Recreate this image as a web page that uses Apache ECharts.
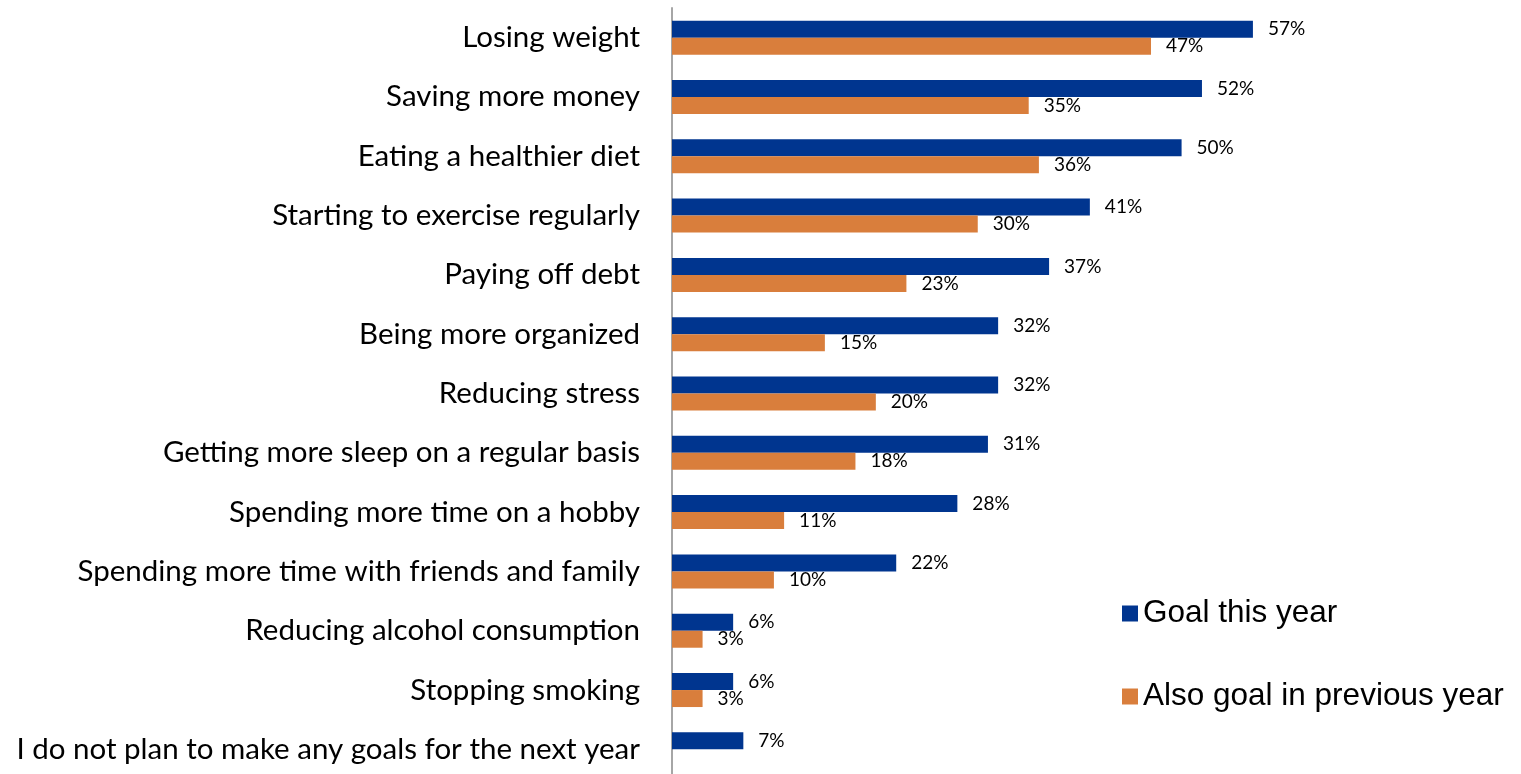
<!DOCTYPE html>
<html>
<head>
<meta charset="utf-8">
<script src="https://cdn.jsdelivr.net/npm/echarts@6/dist/echarts.min.js"></script>
<style>
  html, body { margin: 0; padding: 0; background: #ffffff; }
  #chart { width: 1521px; height: 774px; }
</style>
</head>
<body>
<div id="chart"></div>
<script>
// Goals, listed top to bottom
const categories = [
  'Losing weight',
  'Saving more money',
  'Eating a healthier diet',
  'Starting to exercise regularly',
  'Paying off debt',
  'Being more organized',
  'Reducing stress',
  'Getting more sleep on a regular basis',
  'Spending more time on a hobby',
  'Spending more time with friends and family',
  'Reducing alcohol consumption',
  'Stopping smoking',
  'I do not plan to make any goals for the next year'
];

// Share of respondents (%)
const goalThisYear = [57, 52, 50, 41, 37, 32, 32, 31, 28, 22, 6, 6, 7];
const goalPreviousYear = [47, 35, 36, 30, 23, 15, 20, 18, 11, 10, 3, 3, null];

const seriesNames = ['Goal this year', 'Also goal in previous year'];
const BLUE = '#00358F';
const ORANGE = '#D97E3C';

const chart = echarts.init(document.getElementById('chart'), null, { renderer: 'canvas' });

const valueLabel = {
  show: true,
  position: 'right',
  distance: 15,
  fontFamily: 'Lato',
  fontSize: 19,
  color: '#000000',
  formatter: p => p.value + '%'
};

chart.setOption({
  animation: false,
  backgroundColor: '#ffffff',
  grid: {
    left: 672, top: 8, width: 611.5, height: 771,
    containLabel: false,
    outerBoundsMode: 'none'
  },
  legend: {
    orient: 'vertical',
    left: 1117,
    top: 592.5,
    itemWidth: 16,
    itemHeight: 16,
    itemGap: 51,
    icon: 'rect',
    textStyle: { fontFamily: 'Liberation Sans', fontSize: 31.5, color: '#000000', lineHeight: 31 },
    data: seriesNames
  },
  xAxis: {
    type: 'value',
    min: 0,
    max: 60,
    show: false
  },
  yAxis: {
    type: 'category',
    inverse: true,
    data: categories,
    axisLine: { show: true, lineStyle: { color: '#A6A6A6', width: 2 } },
    axisTick: { show: false },
    axisLabel: {
      margin: 32,
      fontFamily: 'Lato',
      fontSize: 29.5,
      color: '#000000'
    },
    splitLine: { show: false }
  },
  series: [
    {
      name: seriesNames[0],
      type: 'bar',
      data: goalThisYear,
      barWidth: 17,
      barGap: '0%',
      itemStyle: { color: BLUE },
      label: valueLabel
    },
    {
      name: seriesNames[1],
      type: 'bar',
      data: goalPreviousYear,
      barWidth: 17,
      barGap: '0%',
      itemStyle: { color: ORANGE },
      label: valueLabel
    }
  ]
});
</script>
</body>
</html>
